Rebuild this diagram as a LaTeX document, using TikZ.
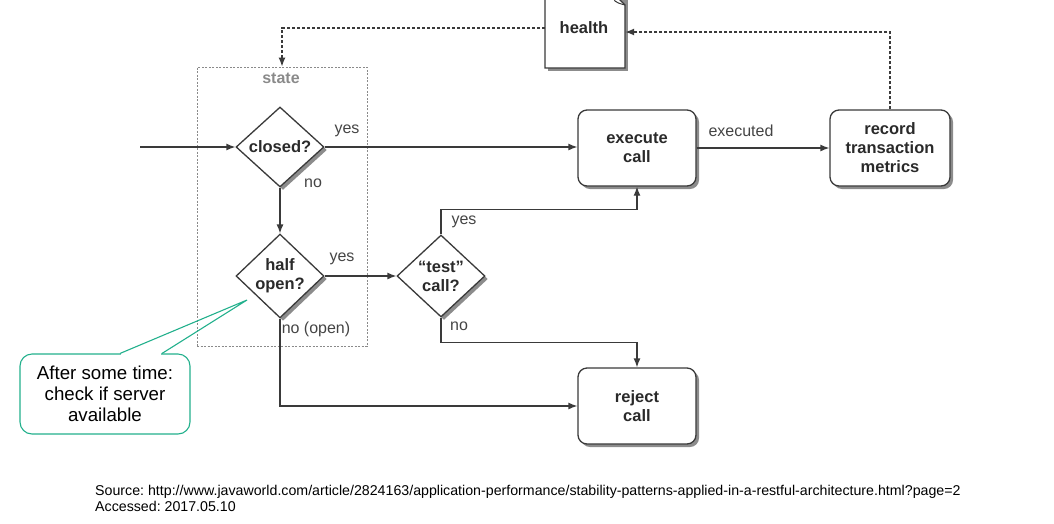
\documentclass[tikz,border=0pt]{standalone}
\usepackage{fontspec}
\setmainfont{Liberation Sans}
\usetikzlibrary{shapes.geometric,arrows.meta,shadows}
\definecolor{ln}{HTML}{3A3A3A}
\definecolor{txt}{HTML}{2A2A2A}
\definecolor{lbltxt}{HTML}{444444}
\definecolor{teal1}{HTML}{22B08C}
\definecolor{stategray}{HTML}{8A8A8A}
\frenchspacing
\begin{document}
\begin{tikzpicture}[x=1pt,y=-1pt,
  every node/.style={text=txt},
  shad/.style={drop shadow={shadow xshift=3pt, shadow yshift=-3pt, fill=black!60, opacity=0.75}},
  box/.style={draw=ln, line width=1.3pt, fill=white, rounded corners=9pt, minimum width=118pt, minimum height=76pt, align=center, font=\bfseries\fontsize{16.5}{19}\selectfont, shad},
  dec/.style={diamond, draw=ln, line width=1.3pt, fill=white, minimum width=88pt, minimum height=80pt, inner sep=0pt, align=center, font=\bfseries\fontsize{16.5}{19}\selectfont, shad},
  flow/.style={draw=ln, line width=1.3pt, -{Latex[length=9pt,width=7pt]}},
  dflow/.style={flow, dash pattern=on 3pt off 2pt},
  lbl/.style={font=\fontsize{16}{18}\selectfont, text=lbltxt},
]
\useasboundingbox (0,0) rectangle (1054,523);

% state container
\node[draw=stategray, line width=0.9pt, dash pattern=on 2pt off 1.5pt, minimum width=170pt, minimum height=279pt, inner sep=0pt] (state) at (282,206.5) {};
\node[font=\bfseries\fontsize{16}{18}\selectfont, text=stategray] (statelbl) at (281,78) {state};

% health document
\fill[black!60, opacity=0.75] (548,-5) -- (628,-5) -- (628,71) -- (548,71) -- cycle;
\draw[ln, line width=1.3pt, fill=white] (545,-8) -- (612,-8) -- (625,5) -- (625,68) -- (545,68) -- cycle;
\draw[ln, line width=1pt] (612,-8) .. controls (614,2) .. (625,5);
\node[minimum width=80pt, minimum height=70pt, inner sep=0pt] (health) at (585,31) {};
\node[font=\bfseries\fontsize{16.5}{19}\selectfont] (healthlbl) at (584,28) {health};

% boxes
\node[box] (exec) at (637,148) {execute\\call};
\node[box, minimum width=120pt] (rec) at (890,148) {record\\transaction\\metrics};
\node[box] (rej) at (637,406) {reject\\call};

% decisions
\node[dec] (closed) at (280,147) {closed?};
\node[dec] (half) at (280,276) {half\\open?};
\node[dec, minimum height=82pt] (test) at (441,276) {“test”\\call?};

% connectors
\coordinate (in) at (140,147);
\draw[flow] (in) -- (closed.west);
\draw[flow] (closed.east) -- (closed.east -| exec.west);
\draw[flow] (closed.south) -- (half.north);
\draw[flow] (half.east) -- (test.west);
\draw[flow] (test.north) -- ++(0,-25) -| (exec.south);
\draw[flow] (test.south) -- ++(0,25) -| (rej.north);
\draw[flow] (half.south) |- (rej.west);
\draw[flow] (exec.east) -- (rec.west);
\draw[dflow] (rec.north) |- ([yshift=-1pt]health.east);
\draw[dflow] ([yshift=3pt]health.west) -| (state.north);

% labels
\node[lbl] (l1) at (347,131) {yes};
\node[lbl] (l2) at (313,183) {no};
\node[lbl] (l3) at (342,259) {yes};
\node[lbl] (l4) at (316,329) {no (open)};
\node[lbl] (l5) at (464,222) {yes};
\node[lbl] (l6) at (459,326) {no};
\node[lbl] (l7) at (741,131) {executed};

% callout
\node[draw=teal1, line width=1.1pt, fill=white, rounded corners=12pt, minimum width=170pt, minimum height=80pt, align=center, font=\fontsize{18.7}{21}\selectfont, text=black] (note) at (105,394) {After some time:\\check if server\\available};
\coordinate (tip) at (247,300);
\fill[white] ([xshift=16pt,yshift=2pt]note.north) rectangle ([xshift=56pt,yshift=-2pt]note.north);
\draw[teal1, line width=1.1pt] ([xshift=15pt]note.north) -- (tip) -- ([xshift=57pt]note.north);

% source
\node[anchor=base west, inner sep=0pt, font=\fontsize{14.2}{16}\selectfont, text=black] (src1) at (95,495) {Source: http://www.javaworld.com/article/2824163/application-performance/stability-patterns-applied-in-a-restful-architecture.html?page=2};
\node[anchor=base west, inner sep=0pt, font=\fontsize{14.2}{16}\selectfont, text=black] (src2) at (95,511) {Accessed: 2017.05.10};
\end{tikzpicture}
\end{document}
